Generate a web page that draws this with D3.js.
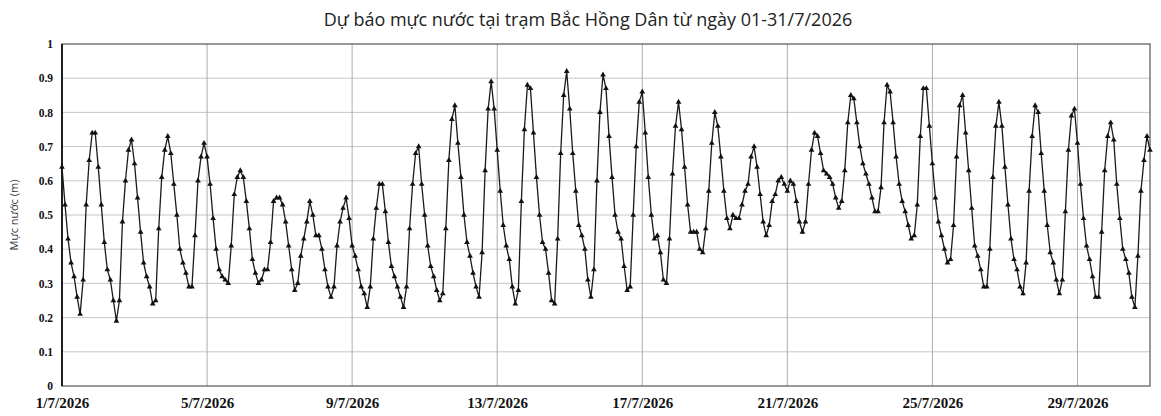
<!DOCTYPE html>
<html><head><meta charset="utf-8">
<script src="https://cdn.jsdelivr.net/npm/d3@7/dist/d3.min.js"></script>
<style>body{margin:0;background:#fff}svg{display:block}</style>
</head><body><svg id="c" width="1161" height="416"></svg>
<script>
const title = "Dự báo mực nước tại trạm Bắc Hồng Dân từ ngày 01-31/7/2026";
const yLabel = "Mực nước (m)";
const startDate = new Date(2026, 6, 1, 0, 0);
const endDate = new Date(2026, 6, 31, 0, 0);
const stepHours = 2;
const xTickDays = [1, 5, 9, 13, 17, 21, 25, 29];
const yTicks = [0, 0.1, 0.2, 0.3, 0.4, 0.5, 0.6, 0.7, 0.8, 0.9, 1];
const waterLevel = [
0.64,0.53,0.43,0.36,0.32,0.26,0.21,0.31,0.53,0.66,0.74,0.74,
0.64,0.53,0.42,0.34,0.31,0.25,0.19,0.25,0.48,0.60,0.69,0.72,
0.65,0.55,0.45,0.36,0.32,0.29,0.24,0.25,0.46,0.61,0.69,0.73,
0.68,0.59,0.50,0.40,0.36,0.33,0.29,0.29,0.44,0.60,0.67,0.71,
0.67,0.59,0.49,0.40,0.34,0.32,0.31,0.30,0.41,0.56,0.61,0.63,
0.61,0.54,0.46,0.37,0.33,0.30,0.31,0.34,0.34,0.42,0.54,0.55,
0.55,0.53,0.48,0.41,0.34,0.28,0.30,0.38,0.43,0.48,0.54,0.50,
0.44,0.44,0.40,0.34,0.29,0.26,0.29,0.41,0.48,0.52,0.55,0.49,
0.41,0.38,0.34,0.29,0.27,0.23,0.29,0.43,0.52,0.59,0.59,0.51,
0.42,0.35,0.32,0.29,0.26,0.23,0.29,0.46,0.59,0.68,0.70,0.59,
0.50,0.41,0.35,0.32,0.28,0.25,0.27,0.46,0.66,0.78,0.82,0.71,
0.61,0.50,0.42,0.38,0.33,0.29,0.26,0.39,0.63,0.81,0.89,0.81,
0.69,0.57,0.47,0.41,0.37,0.29,0.24,0.28,0.54,0.75,0.88,0.87,
0.74,0.61,0.50,0.42,0.40,0.33,0.25,0.24,0.43,0.68,0.85,0.92,
0.81,0.68,0.57,0.47,0.44,0.40,0.31,0.26,0.34,0.60,0.80,0.91,
0.87,0.73,0.61,0.50,0.45,0.43,0.35,0.28,0.29,0.50,0.70,0.83,
0.86,0.74,0.61,0.50,0.43,0.44,0.39,0.31,0.30,0.43,0.62,0.76,
0.83,0.75,0.64,0.53,0.45,0.45,0.45,0.40,0.39,0.46,0.57,0.71,
0.80,0.76,0.67,0.57,0.49,0.46,0.50,0.49,0.49,0.53,0.57,0.59,
0.67,0.70,0.64,0.56,0.48,0.44,0.47,0.54,0.56,0.60,0.61,0.59,
0.57,0.60,0.59,0.54,0.48,0.45,0.48,0.59,0.69,0.74,0.73,0.68,
0.63,0.62,0.61,0.59,0.55,0.52,0.54,0.63,0.77,0.85,0.84,0.77,
0.70,0.65,0.62,0.59,0.55,0.51,0.51,0.58,0.77,0.88,0.86,0.77,
0.67,0.59,0.54,0.51,0.47,0.43,0.44,0.53,0.73,0.87,0.87,0.76,
0.65,0.55,0.48,0.44,0.40,0.36,0.37,0.47,0.67,0.82,0.85,0.74,
0.63,0.52,0.41,0.38,0.34,0.29,0.29,0.40,0.61,0.76,0.83,0.76,
0.64,0.53,0.43,0.37,0.34,0.29,0.27,0.36,0.57,0.73,0.82,0.80,
0.68,0.57,0.47,0.39,0.36,0.31,0.27,0.31,0.51,0.69,0.79,0.81,
0.71,0.59,0.49,0.41,0.37,0.32,0.26,0.26,0.45,0.63,0.73,0.77,
0.72,0.59,0.49,0.40,0.37,0.33,0.26,0.23,0.38,0.57,0.66,0.73,
0.69
];

const W = 1161, H = 416;
const m = {top: 44, right: 11, bottom: 30, left: 62};
const svg = d3.select("#c");
const x = d3.scaleTime().domain([startDate, endDate]).range([m.left, W - m.right]);
const y = d3.scaleLinear().domain([0, 1]).range([H - m.bottom, m.top]);

const data = waterLevel.map((v, i) => ({t: d3.timeHour.offset(startDate, i * stepHours), v}));
const xTickDates = xTickDays.map(d => new Date(2026, 6, d));

// horizontal grid
svg.append("g").selectAll("line").data(yTicks.slice(1, -1)).join("line")
  .attr("x1", m.left).attr("x2", W - m.right)
  .attr("y1", d => y(d)).attr("y2", d => y(d))
  .attr("stroke", "#c6c6c6").attr("stroke-width", 1);
// vertical grid
svg.append("g").selectAll("line").data(xTickDates.slice(1)).join("line")
  .attr("x1", d => x(d)).attr("x2", d => x(d))
  .attr("y1", m.top).attr("y2", H - m.bottom)
  .attr("stroke", "#acacac").attr("stroke-width", 1);

// frame
svg.append("rect").attr("x", m.left).attr("y", m.top)
  .attr("width", W - m.right - m.left).attr("height", H - m.bottom - m.top)
  .attr("fill", "none").attr("stroke", "#555").attr("stroke-width", 1.2);
svg.append("line").attr("x1", m.left).attr("x2", m.left).attr("y1", m.top).attr("y2", H - m.bottom)
  .attr("stroke", "#111").attr("stroke-width", 1.8);

// y axis labels
const yAxis = d3.axisLeft(y).tickValues(yTicks).tickSize(0).tickPadding(9)
  .tickFormat(d => d3.format("~g")(d));
svg.append("g").attr("transform", `translate(${m.left},0)`).call(yAxis)
  .call(g => g.select(".domain").remove())
  .selectAll("text").attr("font-family", "Liberation Serif, serif").attr("font-weight", "bold")
  .attr("font-size", 11.5).attr("fill", "#111");

// x axis labels
const xAxis = d3.axisBottom(x).tickValues(xTickDates).tickSize(0).tickPadding(11)
  .tickFormat(d => `${d.getDate()}/${d.getMonth() + 1}/${d.getFullYear()}`);
svg.append("g").attr("transform", `translate(0,${H - m.bottom})`).call(xAxis)
  .call(g => g.select(".domain").remove())
  .selectAll("text").attr("font-family", "Liberation Serif, serif").attr("font-weight", "bold")
  .attr("font-size", 15).attr("fill", "#111");

// line
svg.append("path").datum(data)
  .attr("d", d3.line().x(d => x(d.t)).y(d => y(d.v)))
  .attr("fill", "none").attr("stroke", "#1a1a1a").attr("stroke-width", 1.3);
// markers
svg.append("g").selectAll("path").data(data).join("path")
  .attr("transform", d => `translate(${x(d.t)},${y(d.v)})`)
  .attr("d", d3.symbol(d3.symbolTriangle, 14))
  .attr("fill", "#111");

// title
svg.append("text").attr("x", 588).attr("y", 26).attr("text-anchor", "middle")
  .attr("font-family", "Open Sans, sans-serif").attr("font-size", 18).attr("fill", "#222")
  .text(title);
// y label
svg.append("text").attr("transform", `translate(18,${(m.top + H - m.bottom) / 2}) rotate(-90)`)
  .attr("text-anchor", "middle").attr("font-family", "Open Sans, sans-serif")
  .attr("font-size", 11).attr("fill", "#333").text(yLabel);
</script></body></html>
